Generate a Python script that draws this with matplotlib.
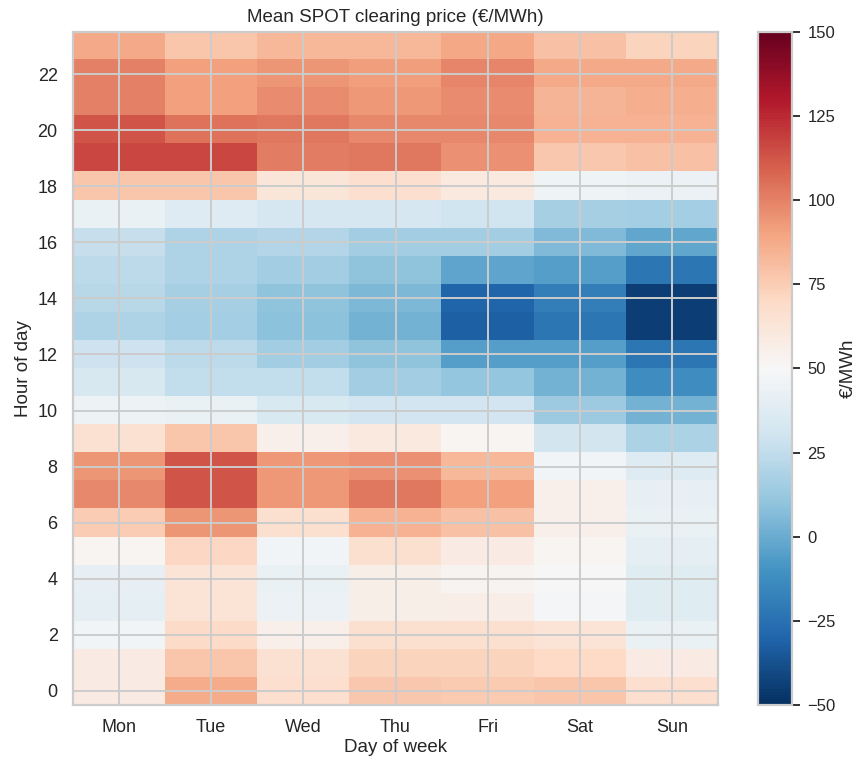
import numpy as np
import matplotlib
matplotlib.use("Agg")
import matplotlib.pyplot as plt
import seaborn as sns

# mean clearing price per hour (0..23) for each weekday, EUR/MWh
days = ["Mon", "Tue", "Wed", "Thu", "Fri", "Sat", "Sun"]
mon = [58, 58, 47, 40, 42, 52, 75, 98, 94, 65, 45, 34, 29, 19, 22, 24, 27, 43, 78, 117, 113, 100, 100, 88]
tue = [87, 78, 69, 64, 64, 71, 94, 113, 113, 78, 43, 25, 24, 16, 17, 19, 19, 37, 78, 117, 104, 91, 91, 78]
wed = [67, 65, 55, 44, 43, 47, 66, 93, 93, 55, 35, 25, 15, 9, 10, 15, 21, 33, 62, 101, 103, 97, 94, 83]
thu = [77, 72, 66, 56, 56, 66, 85, 103, 96, 60, 31, 15, 10, 3, 5, 10, 15, 33, 67, 103, 98, 93, 92, 83]
fri = [76, 72, 66, 57, 53, 58, 79, 91, 83, 52, 31, 11, -5, -32, -30, -3, 15, 30, 60, 96, 98, 97, 99, 89]
sat = [78, 70, 64, 49, 50, 52, 55, 55, 47, 32, 14, 3, -5, -22, -19, -5, 6, 17, 46, 77, 85, 84, 88, 79]
sun = [67, 58, 43, 38, 38, 40, 43, 42, 37, 18, 3, -12, -22, -44, -44, -22, -2, 16, 44, 79, 85, 86, 88, 72]

grid = np.array([mon, tue, wed, thu, fri, sat, sun]).T  # hours x days

sns.set_theme(style="whitegrid")
plt.rcParams["font.family"] = ["Liberation Sans", "DejaVu Sans"]

fig = plt.figure(figsize=(8.6, 7.64), dpi=100)
ax = fig.add_axes([0.0849, 0.0772, 0.750, 0.881])
cax = fig.add_axes([0.881, 0.0772, 0.040, 0.881])

im = ax.imshow(grid, origin="lower", aspect="auto", cmap="RdBu_r", vmin=-50, vmax=150)
ax.set_xticks(range(len(days)))
ax.set_xticklabels(days)
ax.set_yticks(range(0, 24, 2))
ax.tick_params(labelsize=13, length=0)
ax.tick_params(axis="x", pad=10)
ax.tick_params(axis="y", pad=11)
ax.set_xlabel("Day of week", fontsize=13.5, labelpad=2)
ax.set_ylabel("Hour of day", fontsize=13.5, labelpad=4)
ax.set_title("Mean SPOT clearing price (€/MWh)", fontsize=13.5, pad=7)
ax.grid(True, color="#cccccc", linewidth=1.4)
for s in ax.spines.values():
    s.set_color("#cccccc")
    s.set_linewidth(1.6)

cb = fig.colorbar(im, cax=cax)
cb.set_ticks(range(-50, 151, 25))
cb.ax.tick_params(labelsize=12, length=6, width=1.4, color="#333333", right=True, pad=5)
cb.outline.set_edgecolor("#cccccc")
cb.outline.set_linewidth(1.6)
cb.set_label("€/MWh", fontsize=13.5, labelpad=3)

fig.savefig("out.png", dpi=100)
